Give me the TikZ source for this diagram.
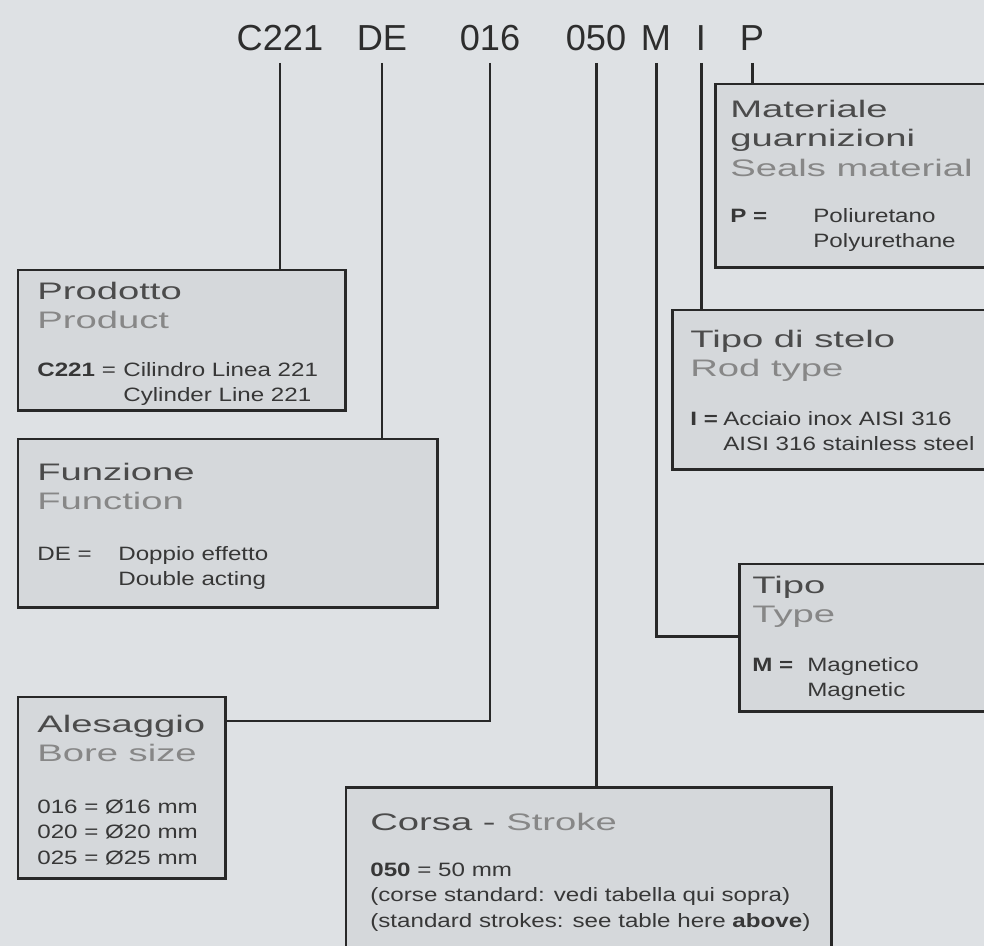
\documentclass[tikz,border=0pt]{standalone}
\usepackage{fontspec}
\setmainfont{Liberation Sans}
\newfontfamily\headfont[FakeStretch=1.6]{Liberation Sans}
\newfontfamily\bodyfont[FakeStretch=1.25]{Liberation Sans}

\definecolor{bg}{RGB}{222,225,228}
\definecolor{boxfill}{RGB}{213,216,219}
\definecolor{boxline}{RGB}{40,40,40}
\definecolor{hdark}{RGB}{75,75,75}
\definecolor{hlight}{RGB}{135,135,135}
\definecolor{bodytext}{RGB}{55,55,55}
\definecolor{titletext}{RGB}{45,45,45}

\tikzset{
	box/.style = {rectangle, draw = boxline, line width = 1.7pt, fill = boxfill, inner sep = 0, outer sep = 0, anchor = north west},
	head/.style = {anchor = base west, inner sep = 0, font = \headfont\fontsize{13.6}{16.8}\selectfont},
	body/.style = {anchor = base west, inner sep = 0, text = bodytext, font = \bodyfont\fontsize{11}{14.6}\selectfont},
	code/.style = {anchor = base, inner sep = 0, text = titletext, font = \fontsize{20.6}{24}\selectfont},
	link/.style = {draw = boxline, line width = 1.7pt}
}

\begin{document}
\begin{tikzpicture}[x = 0.02cm, y = -0.02cm]

	% Background
	
	\fill [bg] (0, 0) rectangle (984, 946);
	\useasboundingbox (0, 0) rectangle (984, 946);

	% Code
	
	\foreach \name/\x/\txt in {tProd/280/C221, tFunc/382/DE, tBore/490/016, tStroke/596/050, tType/656/M, tRod/701/I, tSeal/752/P}
	{
		\node [code] (\name) at (\x, 51) {\txt};
	}

	% Boxes
	
	\node [box, minimum width = 6.56cm, minimum height = 2.82cm] (prod) at (18, 270) {};
	\node [box, minimum width = 8.4cm, minimum height = 3.38cm] (func) at (18, 439) {};
	\node [box, minimum width = 4.16cm, minimum height = 3.64cm] (bore) at (18, 697) {};
	\node [box, minimum width = 9.72cm, minimum height = 4cm] (stroke) at (346, 787) {};
	\node [box, minimum width = 6cm, minimum height = 3.68cm] (seal) at (715, 84) {};
	\node [box, minimum width = 6.8cm, minimum height = 3.2cm] (rod) at (672, 310) {};
	\node [box, minimum width = 5.6cm, minimum height = 2.96cm] (type) at (739, 564) {};

	% Texts
	
	\node [head] (prodH) at ([shift = {(19, 29)}] prod.north west)
		{\begin{tabular}[t]{@{}l@{}}\color{hdark}Prodotto\\\color{hlight}Product\end{tabular}};
	\node [body] (prodB) at ([shift = {(19, 106)}] prod.north west)
		{\begin{tabular}[t]{@{}p{1.72cm}@{}l@{}}\textbf{C221} = & Cilindro Linea 221\\ & Cylinder Line 221\end{tabular}};

	\node [head] (funcH) at ([shift = {(19, 41)}] func.north west)
		{\begin{tabular}[t]{@{}l@{}}\color{hdark}Funzione\\\color{hlight}Function\end{tabular}};
	\node [body] (funcB) at ([shift = {(19, 121)}] func.north west)
		{\begin{tabular}[t]{@{}p{1.62cm}@{}l@{}}DE = & Doppio effetto\\ & Double acting\end{tabular}};

	\node [head] (boreH) at ([shift = {(19, 35)}] bore.north west)
		{\begin{tabular}[t]{@{}l@{}}\color{hdark}Alesaggio\\\color{hlight}Bore size\end{tabular}};
	\node [body] (boreB) at ([shift = {(19, 116)}] bore.north west)
		{\begin{tabular}[t]{@{}l@{}}016 = Ø16 mm\\020 = Ø20 mm\\025 = Ø25 mm\end{tabular}};

	\node [head] (strokeH) at ([shift = {(24, 43)}] stroke.north west)
		{\color{hdark}Corsa - \color{hlight}Stroke};
	\node [body] (strokeB) at ([shift = {(24, 89)}] stroke.north west)
		{\begin{tabular}[t]{@{}l@{}}\textbf{050} = 50 mm\\(corse standard: vedi tabella qui sopra)\\(standard strokes: see table here \textbf{above})\end{tabular}};

	\node [head] (sealH) at ([shift = {(15, 33)}] seal.north west)
		{\begin{tabular}[t]{@{}l@{}}\color{hdark}Materiale\\\color{hdark}guarnizioni\\\color{hlight}Seals material\end{tabular}};
	\node [body] (sealB) at ([shift = {(15, 138)}] seal.north west)
		{\begin{tabular}[t]{@{}p{1.66cm}@{}l@{}}\textbf{P =} & Poliuretano\\ & Polyurethane\end{tabular}};

	\node [head] (rodH) at ([shift = {(18, 37)}] rod.north west)
		{\begin{tabular}[t]{@{}l@{}}\color{hdark}Tipo di stelo\\\color{hlight}Rod type\end{tabular}};
	\node [body] (rodB) at ([shift = {(18, 115)}] rod.north west)
		{\begin{tabular}[t]{@{}p{0.66cm}@{}l@{}}\textbf{I =} & Acciaio inox AISI 316\\ & AISI 316 stainless steel\end{tabular}};

	\node [head] (typeH) at ([shift = {(13, 29)}] type.north west)
		{\begin{tabular}[t]{@{}l@{}}\color{hdark}Tipo\\\color{hlight}Type\end{tabular}};
	\node [body] (typeB) at ([shift = {(13, 107)}] type.north west)
		{\begin{tabular}[t]{@{}p{1.1cm}@{}l@{}}\textbf{M =} & Magnetico\\ & Magnetic\end{tabular}};

	% Connectors
	
	\foreach \a/\b in {tProd/prod, tFunc/func, tStroke/stroke, tRod/rod, tSeal/seal}
	{
		\draw [link] (\a.base) ++(0, 12) -- (\a.base |- \b.north);
	}
	\draw [link] (tBore.base) ++(0, 12) |- ([yshift = -0.48cm] bore.north east);
	\draw [link] (tType.base) ++(0, 12) |- ([yshift = -1.46cm] type.north west);

\end{tikzpicture}
\end{document}
